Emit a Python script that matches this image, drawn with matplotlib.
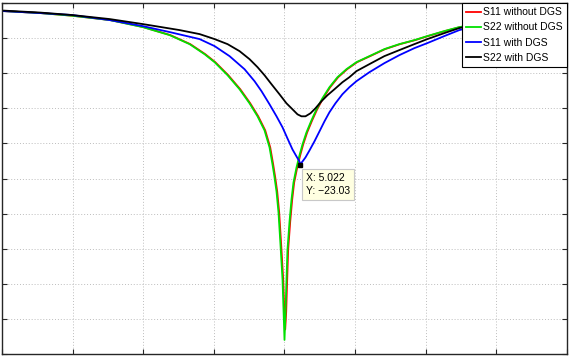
import matplotlib
matplotlib.use("Agg")
import matplotlib.pyplot as plt

# Frequency (GHz) and magnitude (dB)
s22_nodgs_f = [4.600, 4.6535, 4.6987, 4.7525, 4.7992, 4.8373, 4.8656, 4.8868, 4.9010, 4.9194,
               4.9364, 4.9505, 4.9618, 4.9717, 4.9788, 4.9830, 4.9859, 4.9887, 4.9915, 4.9943,
               4.9972, 4.9986, 5.000,
               5.0014, 5.0028, 5.0042, 5.0071, 5.0099, 5.0127, 5.0170, 5.0212, 5.0255, 5.0311,
               5.0382, 5.0453, 5.0537, 5.0636, 5.0750, 5.0877, 5.1018, 5.1202, 5.1414, 5.1626,
               5.1839, 5.2023, 5.2263, 5.2475, 5.2758, 5.3041, 5.3465, 5.400]
s22_nodgs_db = [-1.14, -1.43, -1.81, -2.43, -3.43, -4.57, -5.86, -7.29, -8.43, -10.29,
                -12.29, -14.29, -16.14, -18.14, -20.57, -23.0, -24.86, -26.86, -29.86, -34.43,
                -39.43, -43.71, -48.0,
                -44.14, -39.43, -35.14, -31.14, -28.0, -25.57, -23.43, -21.71, -20.14, -18.43,
                -16.71, -15.14, -13.57, -12.0, -10.57, -9.43, -8.43, -7.57, -6.57, -5.86,
                -5.29, -4.71, -4.0, -3.43, -3.0, -2.57, -2.0, -1.43]

s11_nodgs_f = [4.600, 4.6545, 4.6997, 4.7535, 4.8002, 4.8383, 4.8666, 4.8878, 4.9020, 4.9204,
               4.9374, 4.9515, 4.9628, 4.9727, 4.9798, 4.9840, 4.9869, 4.9897, 4.9925, 4.9953,
               4.9982, 4.9996, 5.0010,
               5.0024, 5.0038, 5.0052, 5.0081, 5.0109, 5.0137, 5.0180, 5.0222, 5.0265, 5.0321,
               5.0392, 5.0463, 5.0547, 5.0646, 5.0760, 5.0887, 5.1028, 5.1212, 5.1424, 5.1636,
               5.1849, 5.2033, 5.2273, 5.2485, 5.2768, 5.3051, 5.3475, 5.400]
s11_nodgs_db = [-1.14, -1.43, -1.81, -2.43, -3.43, -4.57, -5.86, -7.29, -8.43, -10.29,
                -12.29, -14.29, -16.14, -18.14, -20.57, -23.0, -24.86, -26.86, -29.86, -34.43,
                -39.43, -43.5, -46.5,
                -44.0, -39.43, -35.14, -31.14, -28.0, -25.57, -23.43, -21.71, -20.14, -18.43,
                -16.71, -15.14, -13.57, -12.0, -10.57, -9.43, -8.43, -7.57, -6.57, -5.86,
                -5.29, -4.71, -4.0, -3.43, -3.0, -2.57, -2.0, -1.45]

s11_dgs_f = [4.600, 4.6535, 4.6987, 4.7525, 4.7992, 4.8373, 4.8798, 4.9010, 4.9222, 4.9434,
             4.9576, 4.9675, 4.9788, 4.9887, 4.9972, 5.0042, 5.0113, 5.0170, 5.0212, 5.022,
             5.0255, 5.0297, 5.0354, 5.0424, 5.0495, 5.0566, 5.0636, 5.0721, 5.0820, 5.0919,
             5.1018, 5.1202, 5.1414, 5.1626, 5.1839, 5.2023, 5.2263, 5.2475, 5.2758, 5.3041,
             5.3465, 5.400]
s11_dgs_db = [-1.14, -1.43, -1.71, -2.43, -3.29, -4.14, -5.14, -6.14, -7.57, -9.43,
              -11.14, -12.57, -14.43, -16.14, -17.71, -19.29, -20.86, -21.86, -22.57, -23.03,
              -22.57, -22.0, -21.0, -19.71, -18.29, -16.86, -15.57, -14.29, -13.0, -12.0,
              -11.14, -9.86, -8.57, -7.43, -6.43, -5.71, -4.71, -3.86, -3.14, -2.71,
              -2.14, -1.57]

s22_dgs_f = [4.600, 4.6535, 4.6987, 4.7525, 4.7992, 4.8515, 4.8798, 4.9010, 4.9194, 4.9364,
             4.9505, 4.9618, 4.9717, 4.9816, 4.9929, 5.0028, 5.0113, 5.0184, 5.0240, 5.0297,
             5.0368, 5.0438, 5.0523, 5.0608, 5.0707, 5.0820, 5.0919, 5.1018, 5.1202, 5.1414,
             5.1626, 5.1839, 5.2023, 5.2263, 5.2475, 5.2758, 5.3041, 5.3465, 5.400]
s22_dgs_db = [-1.07, -1.36, -1.71, -2.29, -3.0, -3.86, -4.43, -5.14, -5.86, -6.86,
              -8.0, -9.14, -10.29, -11.57, -13.0, -14.29, -15.14, -15.86, -16.14, -16.14,
              -15.71, -15.0, -14.0, -13.14, -12.29, -11.29, -10.57, -9.71, -8.71, -7.57,
              -6.71, -5.86, -5.14, -4.29, -3.57, -3.0, -2.57, -2.0, -1.43]

series_labels = ["S11 without DGS", "S22 without DGS", "S11 with DGS", "S22 with DGS"]
x_ticks = [4.6, 4.7, 4.8, 4.9, 5.0, 5.1, 5.2, 5.3, 5.4]
y_ticks = [-50, -45, -40, -35, -30, -25, -20, -15, -10, -5, 0]
tip_x, tip_y = 5.022, -23.03

plt.rcParams['font.family'] = ['Liberation Sans', 'DejaVu Sans']

fig = plt.figure(figsize=(5.71, 3.56), dpi=100)
ax = fig.add_axes([2 / 571, 1 - 354 / 356, 565 / 571, 351 / 356])

ax.plot(s11_nodgs_f, s11_nodgs_db, color='#ff0000', lw=1.3, label=series_labels[0])
ax.plot(s22_nodgs_f, s22_nodgs_db, color='#00e000', lw=1.3, label=series_labels[1])
ax.plot(s11_dgs_f, s11_dgs_db, color='#0000ff', lw=1.3, label=series_labels[2])
ax.plot(s22_dgs_f, s22_dgs_db, color='#000000', lw=1.3, label=series_labels[3])

ax.set_xlim(x_ticks[0], x_ticks[-1])
ax.set_ylim(y_ticks[0], y_ticks[-1])
ax.set_xticks(x_ticks)
ax.set_yticks(y_ticks)
ax.tick_params(direction='in', length=3.5, width=0.8, colors='#262626',
               top=True, right=True, labelbottom=False, labelleft=False)
ax.grid(True, linestyle=(0, (1, 2)), color='#bdbdbd', linewidth=0.7)
for sp in ax.spines.values():
    sp.set_color('#262626')
    sp.set_linewidth(1.0)

# data tip
ax.plot([tip_x], [tip_y], marker='s', color='black', markersize=3.2, zorder=6)
ax.annotate("X: %.3f\nY: \u2212%.2f" % (tip_x, -tip_y), xy=(tip_x, tip_y),
            xytext=(4.2, -6.3), textcoords='offset points', ha='left', va='top',
            fontsize=7.5, linespacing=1.3,
            bbox=dict(boxstyle='square,pad=0.38', fc='#ffffe1', ec='#c8c8c8', lw=0.8),
            zorder=7)

leg = ax.legend(loc='upper right', bbox_to_anchor=(1.0, 1.0), fontsize=7.5,
                frameon=True, fancybox=False, edgecolor='black', framealpha=1,
                borderaxespad=0, handlelength=1.45, handletextpad=0.2,
                labelspacing=0.5, borderpad=0.4)
leg.get_frame().set_linewidth(0.8)

fig.savefig("out.png", dpi=100)
